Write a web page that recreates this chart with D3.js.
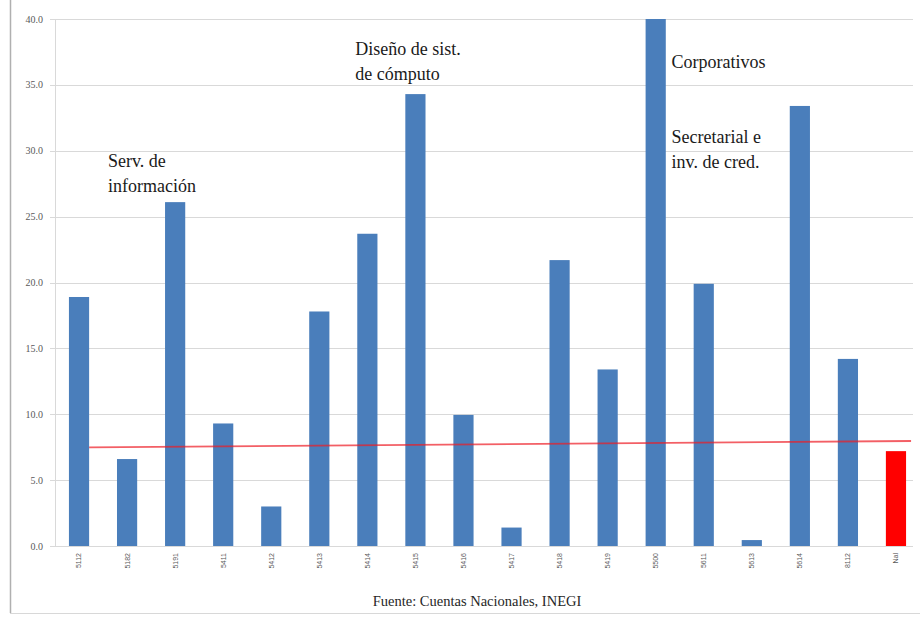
<!DOCTYPE html>
<html lang="es">
<head>
    <meta charset="UTF-8">
    <title>Chart</title>
    <script src="https://cdn.jsdelivr.net/npm/d3@7"></script>
    <style>
        body { margin: 0; background: #fff; }
        .serif { font-family: 'Liberation Serif', Tinos, 'DejaVu Serif', serif; }
    </style>
</head>
<body>
    <div id="Chart" style="width: 920px; height: 622px;"></div>
    <script>
        // categorias (SCIAN) y valores
        const categories = ['5112', '5182', '5191', '5411', '5412', '5413', '5414', '5415', '5416',
                            '5417', '5418', '5419', '5500', '5611', '5613', '5614', '8112', 'Nal'];
        const values = [18.9, 6.6, 26.1, 9.3, 3.0, 17.8, 23.7, 34.3, 9.95,
                        1.4, 21.7, 13.4, 40.0, 19.9, 0.45, 33.4, 14.2, 7.2];
        const yTicks = [0, 5, 10, 15, 20, 25, 30, 35, 40];
        // linea roja (tendencia) valor al inicio y al final
        const trendValues = [7.48, 7.97];
        const highlight = 'Nal';
        const notes = [
            {cat: '5182', v: 28.8, lines: ['Serv. de', 'información'], dx: -9},
            {cat: '5414', v: 37.3, lines: ['Diseño de sist.', 'de cómputo'], dx: -2},
            {cat: '5500', v: 36.3, lines: ['Corporativos'], dx: 26},
            {cat: '5500', v: 30.6, lines: ['Secretarial e', 'inv. de cred.'], dx: 26}
        ];
        const source = 'Fuente: Cuentas Nacionales, INEGI';

        const sans = '"Liberation Sans", Arial, sans-serif';

        const c_width = 920, c_height = 622;
        const padding = {left: 55, right: 0, top: 19, bottom: 76};

        var svg = d3.select('#Chart')
                    .append('svg')
                    .attr('width', c_width)
                    .attr('height', c_height);

        var xScale = d3.scaleBand()
                    .domain(categories)
                    .range([padding.left, c_width - padding.right])
                    .paddingInner(0.58)
                    .paddingOuter(0.29);
        var yScale = d3.scaleLinear()
                    .domain([0, 40])
                    .range([c_height - padding.bottom, padding.top]);

        // marco exterior
        svg.append('line')
            .attr('x1', 10.5).attr('x2', 10.5)
            .attr('y1', 0).attr('y2', 613)
            .attr('stroke', '#b0b0b0').attr('stroke-width', 1.5);
        svg.append('line')
            .attr('x1', 10).attr('x2', c_width)
            .attr('y1', 613.5).attr('y2', 613.5)
            .attr('stroke', '#d8d8d8');

        // rejilla
        svg.append('g')
            .selectAll('line')
            .data(yTicks)
            .enter()
            .append('line')
            .attr('x1', padding.left - 5)
            .attr('x2', 913)
            .attr('y1', d => Math.round(yScale(d)) + 0.5)
            .attr('y2', d => Math.round(yScale(d)) + 0.5)
            .attr('stroke', '#d9d9d9')
            .attr('stroke-width', 1.2);

        svg.append('line')
            .attr('x1', padding.left + 0.5).attr('x2', padding.left + 0.5)
            .attr('y1', yScale(40)).attr('y2', yScale(0))
            .attr('stroke', '#d9d9d9');

        // etiquetas eje y
        svg.append('g')
            .selectAll('text')
            .data(yTicks)
            .enter()
            .append('text')
            .attr('class', 'serif')
            .attr('x', 43)
            .attr('y', d => yScale(d))
            .attr('dy', '0.35em')
            .attr('text-anchor', 'end')
            .attr('font-size', '10px')
            .attr('fill', '#595959')
            .text(d => d3.format('.1f')(d));

        // barras
        svg.append('g')
            .selectAll('rect')
            .data(values)
            .enter()
            .append('rect')
            .attr('x', (d, i) => xScale(categories[i]))
            .attr('y', d => yScale(d))
            .attr('width', xScale.bandwidth())
            .attr('height', d => yScale(0) - yScale(d))
            .attr('fill', (d, i) => categories[i] == highlight ? '#ff0000' : '#4a7ebb');

        // linea roja
        svg.append('line')
            .attr('x1', xScale(categories[0]) + xScale.bandwidth())
            .attr('x2', xScale(categories[categories.length - 1]) + xScale.bandwidth() + 5)
            .attr('y1', yScale(trendValues[0]))
            .attr('y2', yScale(trendValues[1]))
            .attr('stroke', '#ee1c25')
            .attr('stroke-width', 1.8)
            .attr('opacity', 0.7);

        // etiquetas eje x
        svg.append('g')
            .selectAll('text')
            .data(categories)
            .enter()
            .append('text')
            .attr('transform', d => 'translate(' + (xScale(d) + xScale.bandwidth() / 2) + ',' + (yScale(0) + 7) + ') rotate(-90)')
            .attr('dy', '0.35em')
            .attr('text-anchor', 'end')
            .attr('font-family', sans)
            .attr('font-size', '7px')
            .attr('fill', '#595959')
            .text(d => d);

        // anotaciones
        notes.forEach(function(n) {
            var t = svg.append('text')
                .attr('class', 'serif')
                .attr('x', xScale(n.cat) + n.dx)
                .attr('y', yScale(n.v))
                .attr('font-size', '18px')
                .attr('fill', '#1a1a1a');
            n.lines.forEach(function(l, i) {
                t.append('tspan')
                    .attr('x', xScale(n.cat) + n.dx)
                    .attr('dy', i == 0 ? 0 : 25)
                    .text(l);
            });
        });

        svg.append('text')
            .attr('class', 'serif')
            .attr('x', 477)
            .attr('y', 606)
            .attr('text-anchor', 'middle')
            .attr('font-size', '14.5px')
            .attr('fill', '#262626')
            .text(source);
    </script>
</body>
</html>
